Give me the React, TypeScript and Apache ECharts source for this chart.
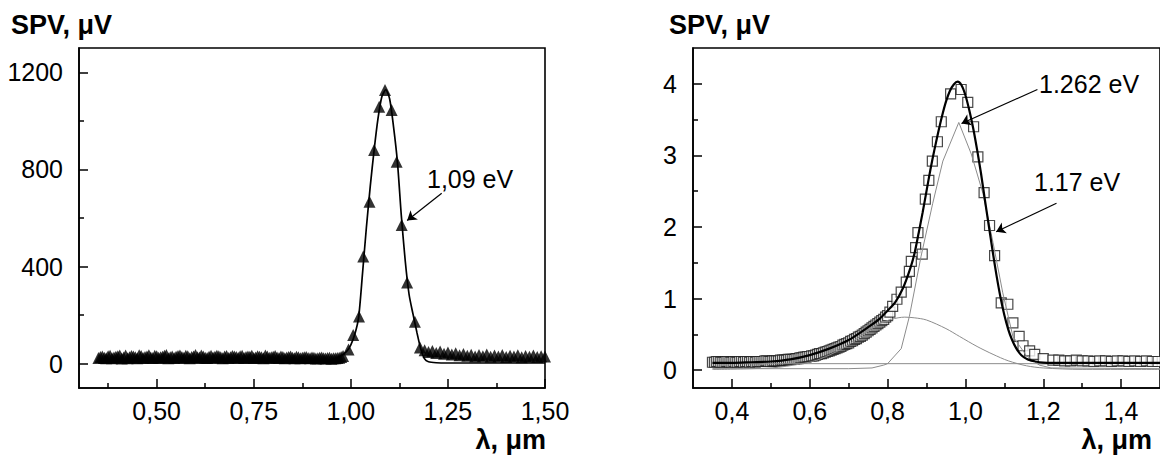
import React, { useEffect, useRef } from "react";
import * as echarts from "echarts";

// ---------- axis ticks ----------
const leftXMajor = [0.5, 0.75, 1.0, 1.25, 1.5];
const leftXMinor = [0.375, 0.625, 0.875, 1.125, 1.375];
const leftYMajor = [0, 400, 800, 1200];
const leftYMinor = [200, 600, 1000];
const rightXMajor = [0.4, 0.6, 0.8, 1.0, 1.2, 1.4];
const rightXMinor = [0.5, 0.7, 0.9, 1.1, 1.3];
const rightYMajor = [0, 1, 2, 3, 4];
const rightYMinor = [0.5, 1.5, 2.5, 3.5];

// ---------- left panel: measured SPV (triangles) ----------
const leftPointsX = [
  0.35, 0.36, 0.37, 0.38, 0.39, 0.40, 0.41, 0.42, 0.43, 0.44, 0.45, 0.46, 0.47, 0.48, 0.49,
  0.50, 0.51, 0.52, 0.53, 0.54, 0.55, 0.56, 0.57, 0.58, 0.59, 0.60, 0.61, 0.62, 0.63, 0.64,
  0.65, 0.66, 0.67, 0.68, 0.69, 0.70, 0.71, 0.72, 0.73, 0.74, 0.75, 0.76, 0.77, 0.78, 0.79,
  0.80, 0.81, 0.82, 0.83, 0.84, 0.85, 0.86, 0.87, 0.88, 0.89, 0.90, 0.91, 0.92, 0.93, 0.94,
  0.95, 0.96, 0.97, 0.98,
  0.994, 1.006, 1.021, 1.032, 1.048, 1.060, 1.073, 1.088, 1.105, 1.118, 1.131, 1.145, 1.165, 1.178,
  1.19, 1.20, 1.21, 1.22, 1.23, 1.24, 1.25, 1.26, 1.27, 1.28, 1.29, 1.30, 1.31, 1.32, 1.33,
  1.34, 1.35, 1.36, 1.37, 1.38, 1.39, 1.40, 1.41, 1.42, 1.43, 1.44, 1.45, 1.46, 1.47, 1.48,
  1.49, 1.50,
];
const leftPointsY = [
  24, 30, 22, 33, 26, 31, 21, 34, 27, 30, 23, 32, 28, 35, 24,
  31, 27, 33, 22, 30, 29, 34, 25, 31, 28, 36, 26, 30, 24, 33,
  29, 31, 23, 32, 27, 30, 25, 33, 28, 29, 24, 31, 27, 34, 25,
  29, 26, 30, 23, 28, 25, 29, 22, 27, 24, 26, 21, 25, 22, 24,
  20, 23, 25, 32,
  59, 118, 194, 441, 667, 880, 1058, 1127, 1045, 832, 571, 334, 173, 67,
  55, 48, 52, 44, 50, 41, 46, 38, 43, 35, 40, 33, 37, 30, 36,
  31, 38, 29, 34, 30, 36, 28, 33, 30, 35, 27, 32, 29, 34, 28,
  31, 30,
];
// dense baseline readings between the points above
const leftDenseX = [
  0.355, 0.365, 0.375, 0.385, 0.395, 0.405, 0.415, 0.425, 0.435, 0.445, 0.455, 0.465, 0.475,
  0.485, 0.495, 0.505, 0.515, 0.525, 0.535, 0.545, 0.555, 0.565, 0.575, 0.585, 0.595, 0.605,
  0.615, 0.625, 0.635, 0.645, 0.655, 0.665, 0.675, 0.685, 0.695, 0.705, 0.715, 0.725, 0.735,
  0.745, 0.755, 0.765, 0.775, 0.785, 0.795, 0.805, 0.815, 0.825, 0.835, 0.845, 0.855, 0.865,
  0.875, 0.885, 0.895, 0.905, 0.915, 0.925, 0.935, 0.945, 0.955, 0.965, 0.975,
];
const leftDenseY = [
  28, 25, 31, 22, 29, 34, 26, 23, 32, 27, 35, 24, 30,
  26, 33, 25, 29, 36, 27, 24, 32, 28, 33, 23, 30, 27,
  34, 25, 29, 26, 33, 27, 30, 24, 32, 28, 31, 24, 30,
  33, 26, 29, 23, 30, 27, 32, 24, 28, 26, 30, 23, 27,
  25, 28, 22, 25, 23, 26, 21, 25, 22, 24, 28,
];

// ---------- left panel: fitted curve ----------
const leftFitX = [
  0.35, 0.50, 0.70, 0.85, 0.90, 0.93, 0.95, 0.97, 0.98, 0.99, 1.00, 1.01, 1.02, 1.03, 1.04,
  1.05, 1.06, 1.07, 1.08, 1.09, 1.10, 1.11, 1.12, 1.13, 1.14, 1.15, 1.16, 1.17, 1.18, 1.19,
  1.20, 1.22, 1.25, 1.50,
];
const leftFitY = [
  3, 3, 3, 3, 4, 8, 14, 28, 38, 52, 78, 120, 190, 370, 560,
  730, 880, 1010, 1100, 1128, 1090, 975, 830, 610, 425, 285, 205, 130, 62, 20,
  8, 4, 3, 3,
];

// ---------- right panel: measured SPV (squares) ----------
const rightPointsX = [
  0.35, 0.36, 0.37, 0.38, 0.39, 0.40, 0.41, 0.42, 0.43, 0.44, 0.45, 0.46, 0.47, 0.48, 0.49,
  0.50, 0.51, 0.52, 0.53, 0.54, 0.55, 0.56, 0.57, 0.58, 0.59, 0.60, 0.61, 0.62, 0.63, 0.64,
  0.65, 0.66, 0.67, 0.68, 0.69, 0.70, 0.71, 0.72, 0.73, 0.74, 0.75, 0.76, 0.77, 0.78, 0.79,
  0.80, 0.806,
  0.813, 0.824, 0.835, 0.848, 0.856, 0.861, 0.872, 0.878, 0.889, 0.897, 0.906, 0.915, 0.928,
  0.938, 0.962, 0.989, 1.006, 1.021, 1.032, 1.048, 1.062, 1.075, 1.092, 1.109, 1.122, 1.138,
  1.148, 1.165, 1.178, 1.200, 1.225,
  1.240, 1.255, 1.270, 1.285, 1.300, 1.315, 1.330, 1.345, 1.360, 1.375, 1.390, 1.405, 1.420,
  1.435, 1.450, 1.465, 1.480, 1.495,
];
const rightPointsY = [
  0.11, 0.12, 0.11, 0.11, 0.12, 0.11, 0.11, 0.12, 0.11, 0.12, 0.12, 0.11, 0.12, 0.12, 0.13,
  0.12, 0.13, 0.13, 0.14, 0.14, 0.15, 0.15, 0.16, 0.17, 0.18, 0.19, 0.20, 0.22, 0.23, 0.25,
  0.27, 0.29, 0.31, 0.33, 0.36, 0.38, 0.41, 0.44, 0.47, 0.51, 0.55, 0.59, 0.63, 0.67, 0.71,
  0.76, 0.81,
  0.89, 0.99, 1.09, 1.23, 1.38, 1.52, 1.71, 1.92, 1.62, 2.39, 2.65, 2.92, 3.19,
  3.47, 3.86, 3.92, 3.74, 3.40, 2.98, 2.48, 2.02, 1.60, 0.94, 0.92, 0.66, 0.47,
  0.34, 0.27, 0.22, 0.16, 0.14,
  0.14, 0.13, 0.13, 0.14, 0.13, 0.13, 0.12, 0.13, 0.13, 0.12, 0.13, 0.13, 0.12,
  0.13, 0.12, 0.13, 0.12, 0.12,
];
// dense readings on the low-energy tail
const rightDenseX = [
  0.355, 0.365, 0.375, 0.385, 0.395, 0.405, 0.415, 0.425, 0.435, 0.445, 0.455, 0.465, 0.475,
  0.485, 0.495, 0.505, 0.515, 0.525, 0.535, 0.545, 0.555, 0.565, 0.575, 0.585, 0.595, 0.605,
  0.615, 0.625, 0.635, 0.645, 0.655, 0.665, 0.675, 0.685, 0.695, 0.705, 0.715, 0.725, 0.735,
  0.745, 0.755, 0.765, 0.775, 0.785, 0.795,
];
const rightDenseY = [
  0.11, 0.12, 0.11, 0.12, 0.11, 0.12, 0.11, 0.12, 0.12, 0.11, 0.12, 0.12, 0.12,
  0.13, 0.12, 0.13, 0.13, 0.14, 0.14, 0.15, 0.15, 0.16, 0.17, 0.18, 0.19, 0.20,
  0.21, 0.23, 0.24, 0.26, 0.28, 0.30, 0.32, 0.35, 0.37, 0.40, 0.43, 0.46, 0.49,
  0.53, 0.57, 0.61, 0.65, 0.69, 0.74,
];

// ---------- right panel: total fit (black) ----------
const rightFitX = [
  0.35, 0.40, 0.45, 0.50, 0.55, 0.60, 0.65, 0.70, 0.75, 0.78, 0.80, 0.82, 0.84, 0.86, 0.87,
  0.88, 0.89, 0.90, 0.91, 0.92, 0.93, 0.94, 0.95, 0.96, 0.97, 0.98, 0.99, 1.00, 1.01, 1.02,
  1.03, 1.04, 1.05, 1.06, 1.07, 1.08, 1.09, 1.10, 1.11, 1.12, 1.13, 1.14, 1.15, 1.16, 1.18,
  1.20, 1.25, 1.50,
];
const rightFitY = [
  0.10, 0.10, 0.11, 0.12, 0.15, 0.21, 0.30, 0.42, 0.60, 0.72, 0.83, 0.95, 1.15, 1.45, 1.65,
  1.92, 2.20, 2.50, 2.80, 3.07, 3.32, 3.55, 3.75, 3.90, 3.99, 4.03, 3.98, 3.84, 3.63, 3.38,
  3.08, 2.75, 2.38, 2.02, 1.66, 1.32, 1.02, 0.77, 0.57, 0.42, 0.31, 0.23, 0.18, 0.15, 0.12,
  0.105, 0.10, 0.10,
];

// ---------- right panel: component peaks (grey) ----------
const peakSharpX = [
  0.35, 0.70, 0.76, 0.79, 0.80, 0.835, 0.856, 0.886, 0.916, 0.942, 0.983, 1.015, 1.045, 1.071,
  1.096, 1.122, 1.157, 1.19, 1.22, 1.50,
];
const peakSharpY = [
  0.02, 0.02, 0.03, 0.07, 0.09, 0.30, 0.75, 1.59, 2.33, 2.92, 3.46, 3.02, 2.47, 1.78,
  1.08, 0.47, 0.20, 0.07, 0.03, 0.02,
];
const peakBroadX = [
  0.35, 0.45, 0.52, 0.607, 0.65, 0.69, 0.724, 0.75, 0.776, 0.81, 0.844, 0.87, 0.90, 0.95,
  0.985, 1.03, 1.071, 1.11, 1.157, 1.20, 1.30, 1.50,
];
const peakBroadY = [
  0.01, 0.02, 0.04, 0.12, 0.21, 0.32, 0.45, 0.55, 0.64, 0.71, 0.74, 0.73, 0.70, 0.58,
  0.47, 0.33, 0.22, 0.13, 0.06, 0.03, 0.01, 0.01,
];
const offsetX = [0.36, 1.5];
const offsetY = [0.09, 0.09];

const zip = (xs: number[], ys: number[]) => xs.map((x, i) => [x, ys[i]]);
const byX = (a: number[], b: number[]) => a[0] - b[0];

const FONT = "'Liberation Sans', Arial, Helvetica, sans-serif";

function majorAxis(grid: number, min: number, max: number, ticks: number[], fmt: (v: number) => string, isX: boolean) {
  return {
    type: "value",
    gridIndex: grid,
    min,
    max,
    position: isX ? "bottom" : "left",
    axisLine: { show: true, onZero: false, lineStyle: { color: "#000", width: 1.6 } },
    axisTick: { show: true, inside: true, length: 9, customValues: ticks, lineStyle: { color: "#000", width: 1.5 } },
    axisLabel: {
      show: true,
      customValues: ticks,
      formatter: (v: number) => fmt(v),
      color: "#000",
      fontSize: 25,
      fontFamily: FONT,
      margin: isX ? 10 : 16,
    },
    splitLine: { show: false },
  };
}

function minorAxis(grid: number, min: number, max: number, ticks: number[], isX: boolean) {
  return {
    type: "value",
    gridIndex: grid,
    min,
    max,
    position: isX ? "bottom" : "left",
    axisLine: { show: false, onZero: false },
    axisTick: { show: true, inside: true, length: 5, customValues: ticks, lineStyle: { color: "#000", width: 1.5 } },
    axisLabel: { show: false },
    splitLine: { show: false },
  };
}

export default function App() {
  const ref = useRef<HTMLDivElement>(null);

  useEffect(() => {
    if (!ref.current) return;
    const chart = echarts.init(ref.current, null, { renderer: "svg" });

    const arrowLine = {
      silent: true,
      symbol: ["none", "arrow"],
      symbolSize: 9,
      label: { show: false },
      lineStyle: { color: "#000", width: 1.2, type: "solid" },
      emphasis: { disabled: true },
    };

    const option: any = {
      animation: false,
      backgroundColor: "#fff",
      textStyle: { fontFamily: FONT },
      grid: [
        { left: 79, top: 48, width: 466, height: 340, show: true, borderColor: "#000", borderWidth: 1.6, containLabel: false },
        { left: 693, top: 48, width: 468, height: 340, show: true, borderColor: "#000", borderWidth: 1.6, containLabel: false },
      ],
      xAxis: [
        majorAxis(0, 0.3, 1.5, leftXMajor, (v) => v.toFixed(2).replace(".", ","), true),
        minorAxis(0, 0.3, 1.5, leftXMinor, true),
        majorAxis(1, 0.3, 1.5, rightXMajor, (v) => v.toFixed(1).replace(".", ","), true),
        minorAxis(1, 0.3, 1.5, rightXMinor, true),
      ],
      yAxis: [
        majorAxis(0, -100, 1300, leftYMajor, (v) => String(Math.round(v)), false),
        minorAxis(0, -100, 1300, leftYMinor, false),
        majorAxis(1, -0.25, 4.5, rightYMajor, (v) => String(Math.round(v)), false),
        minorAxis(1, -0.25, 4.5, rightYMinor, false),
      ],
      series: [
        {
          name: "left-data",
          type: "scatter",
          xAxisIndex: 0,
          yAxisIndex: 0,
          symbol: "triangle",
          symbolSize: 12,
          itemStyle: { color: "#000" },
          data: zip(leftPointsX, leftPointsY).concat(zip(leftDenseX, leftDenseY)),
          z: 3,
        },
        {
          name: "left-fit",
          type: "line",
          xAxisIndex: 0,
          yAxisIndex: 0,
          showSymbol: false,
          smooth: 0.25,
          lineStyle: { color: "#000", width: 1.7 },
          data: zip(leftFitX, leftFitY),
          z: 4,
          markLine: { ...arrowLine, data: [[{ coord: [1.234, 702] }, { coord: [1.145, 590] }]] },
        },
        {
          name: "right-data",
          type: "scatter",
          xAxisIndex: 2,
          yAxisIndex: 2,
          symbol: "rect",
          symbolSize: 10,
          itemStyle: { color: "#fff", borderColor: "#1a1a1a", borderWidth: 1.2 },
          data: zip(rightPointsX, rightPointsY).concat(zip(rightDenseX, rightDenseY)).sort(byX),
          z: 3,
        },
        {
          name: "offset",
          type: "line",
          xAxisIndex: 2,
          yAxisIndex: 2,
          showSymbol: false,
          lineStyle: { color: "#8c8c8c", width: 1 },
          data: zip(offsetX, offsetY),
          z: 4,
        },
        {
          name: "broad",
          type: "line",
          xAxisIndex: 2,
          yAxisIndex: 2,
          showSymbol: false,
          smooth: 0.3,
          lineStyle: { color: "#8c8c8c", width: 1 },
          data: zip(peakBroadX, peakBroadY),
          z: 4,
        },
        {
          name: "sharp",
          type: "line",
          xAxisIndex: 2,
          yAxisIndex: 2,
          showSymbol: false,
          lineStyle: { color: "#8c8c8c", width: 1 },
          data: zip(peakSharpX, peakSharpY),
          z: 4,
        },
        {
          name: "right-fit",
          type: "line",
          xAxisIndex: 2,
          yAxisIndex: 2,
          showSymbol: false,
          smooth: 0.25,
          lineStyle: { color: "#000", width: 2.2 },
          data: zip(rightFitX, rightFitY),
          z: 5,
          markLine: {
            ...arrowLine,
            data: [
              [{ coord: [1.185, 3.92] }, { coord: [0.99, 3.445] }],
              [{ coord: [1.234, 2.33] }, { coord: [1.079, 1.934] }],
            ],
          },
        },
      ],
      graphic: [
        { type: "text", left: 11, top: 11, style: { text: "SPV, μV", font: `bold 27px ${FONT}`, fill: "#000" } },
        { type: "text", left: 669, top: 11, style: { text: "SPV, μV", font: `bold 27px ${FONT}`, fill: "#000" } },
        { type: "text", right: 1160 - 546, top: 426, style: { text: "λ, μm", font: `bold 27px ${FONT}`, fill: "#000" } },
        { type: "text", right: 1160 - 1152, top: 426, style: { text: "λ, μm", font: `bold 27px ${FONT}`, fill: "#000" } },
        { type: "text", left: 427, top: 166, style: { text: "1,09 eV", font: `25px ${FONT}`, fill: "#000" } },
        { type: "text", left: 1039, top: 71, style: { text: "1.262 eV", font: `25px ${FONT}`, fill: "#000" } },
        { type: "text", left: 1034, top: 169, style: { text: "1.17 eV", font: `25px ${FONT}`, fill: "#000" } },
      ],
    };

    chart.setOption(option);
    return () => chart.dispose();
  }, []);

  return (
    <div
      style={{ position: "fixed", left: 0, top: 0, width: 1160, height: 459, overflow: "hidden", background: "#fff" }}
    >
      <div ref={ref} style={{ width: 1160, height: 459 }} />
    </div>
  );
}
